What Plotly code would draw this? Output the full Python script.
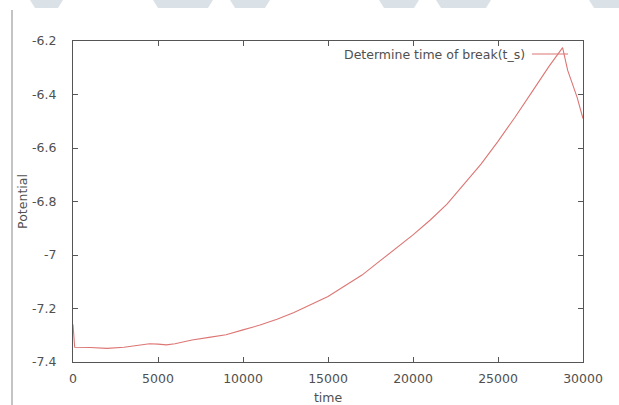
import plotly.graph_objects as go

# ---- data ----
time = [0, 100, 1000, 2000, 3000, 4000, 4500, 5000, 5500, 6000, 7000, 8000, 9000,
        10000, 11000, 12000, 13000, 14000, 15000, 16000, 17000, 18000, 19000,
        20000, 21000, 22000, 23000, 24000, 25000, 26000, 27000, 28000, 28800,
        29100, 29650, 30000]
potential = [-7.26, -7.345, -7.346, -7.349, -7.345, -7.338, -7.332, -7.333, -7.336,
             -7.332, -7.318, -7.308, -7.298, -7.28, -7.262, -7.24, -7.215, -7.185,
             -7.155, -7.115, -7.075, -7.025, -6.975, -6.925, -6.87, -6.81, -6.735,
             -6.66, -6.575, -6.485, -6.39, -6.295, -6.225, -6.31, -6.41, -6.49]

x_tickvals = [0, 5000, 10000, 15000, 20000, 25000, 30000]
x_ticktext = ["0", "5000", "10000", "15000", "20000", "25000", "30000"]
y_tickvals = [-7.4, -7.2, -7.0, -6.8, -6.6, -6.4, -6.2]
y_ticktext = ["-7.4", "-7.2", "-7", "-6.8", "-6.6", "-6.4", "-6.2"]

series_name = "Determine time of break(t_s)"

# ---- layout geometry (pixels) ----
W, H = 619, 405
L, R, T, B = 73, 36, 41, 43
PW, PH = W - L - R, H - T - B


def px(x):
    return (x - L) / PW


def py(y):
    return (H - B - y) / PH


FONT = "DejaVu Sans, sans-serif"
FS = 12.5
LINE_COLOR = "#dc7674"
AXIS_COLOR = "#555555"
TEXT_COLOR = "#505050"

fig = go.Figure()
fig.add_trace(go.Scatter(x=time, y=potential, mode="lines", name=series_name,
                         line=dict(color=LINE_COLOR, width=1.1), showlegend=False))

axis_common = dict(
    showgrid=False, zeroline=False, showline=True, linecolor=AXIS_COLOR, linewidth=1,
    mirror="ticks", ticks="inside", ticklen=5, tickcolor=AXIS_COLOR, tickwidth=1,
    tickfont=dict(family=FONT, size=FS, color=TEXT_COLOR),
)

fig.update_xaxes(range=[0, 30000], tickvals=x_tickvals, ticktext=x_ticktext,
                 ticklabelstandoff=5,
                 title=dict(text="time", standoff=8,
                            font=dict(family=FONT, size=FS, color=TEXT_COLOR)),
                 **axis_common)
fig.update_yaxes(range=[-7.4, -6.2], tickvals=y_tickvals, ticktext=y_ticktext,
                 ticklabelstandoff=13,
                 title=dict(text="Potential", standoff=1,
                            font=dict(family=FONT, size=FS, color=TEXT_COLOR)),
                 **axis_common)

shapes = []
# legend sample line (gnuplot style: text left, sample right)
shapes.append(dict(type="line", xref="paper", yref="paper",
                   x0=px(532), x1=px(568), y0=py(54), y1=py(54),
                   line=dict(color=LINE_COLOR, width=1.1)))
# page decorations: left border line and faint watermark shapes at top
shapes.append(dict(type="line", xref="paper", yref="paper",
                   x0=px(12), x1=px(12), y0=py(10), y1=py(405),
                   line=dict(color="#b0b0b0", width=1.5)))
marks = [(30, 63), (153, 213), (230, 270), (379, 419), (436, 491), (589, 625)]
for a, b in marks:
    path = "M {} {} L {} {} L {} {} L {} {} Z".format(
        px(a), py(0), px(b), py(0), px(b - 5), py(8), px(a + 5), py(8))
    shapes.append(dict(type="path", xref="paper", yref="paper", path=path,
                       fillcolor="#dbe2e7", line=dict(width=0), layer="below"))

fig.update_layout(
    width=W, height=H,
    margin=dict(l=L, r=R, t=T, b=B, autoexpand=False),
    paper_bgcolor="white", plot_bgcolor="white",
    shapes=shapes,
    annotations=[dict(text=series_name, xref="paper", yref="paper",
                      x=px(527), y=py(54), xanchor="right", yanchor="middle",
                      showarrow=False,
                      font=dict(family=FONT, size=FS, color=TEXT_COLOR))],
)

fig.write_html("out.html", config={"displayModeBar": False},
               post_script="document.body.style.margin='0';document.body.style.overflow='hidden';")
